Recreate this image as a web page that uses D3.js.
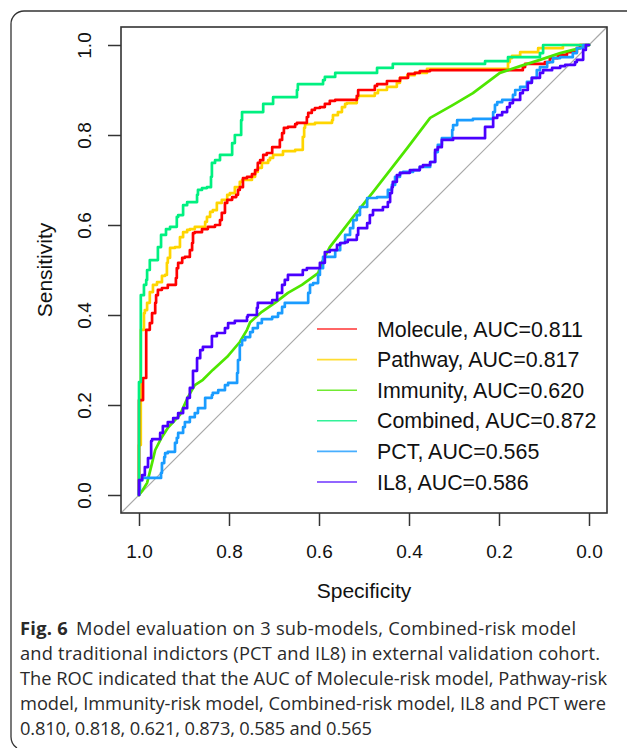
<!DOCTYPE html>
<html><head><meta charset="utf-8">
<script src="https://cdn.jsdelivr.net/npm/d3@7"></script>
<style>body{margin:0;background:#fff}svg{display:block}</style>
</head><body><svg id="c" width="627" height="748"></svg>
<script>
// ---------- data ----------
const seriesNames = ["Molecule","Pathway","Immunity","Combined","PCT","IL8"];
const aucValues   = ["0.811","0.817","0.620","0.872","0.565","0.586"];
const xTickValues = [1.0,0.8,0.6,0.4,0.2,0.0];
const yTickValues = [0.0,0.2,0.4,0.6,0.8,1.0];

// [specificity, sensitivity]
const molecule = [[1,0],[1,0.211],[0.991,0.211],[0.991,0.26],[0.984,0.26],[0.984,0.349],[0.976,0.367],[0.971,0.382],[0.964,0.404],[0.962,0.427],[0.958,0.444],[0.949,0.456],[0.936,0.46],[0.918,0.467],[0.916,0.482],[0.913,0.504],[0.904,0.516],[0.898,0.527],[0.887,0.529],[0.882,0.544],[0.88,0.56],[0.876,0.582],[0.86,0.584],[0.847,0.591],[0.831,0.596],[0.82,0.6],[0.816,0.611],[0.809,0.627],[0.804,0.649],[0.793,0.656],[0.784,0.662],[0.78,0.667],[0.776,0.678],[0.769,0.684],[0.76,0.704],[0.749,0.707],[0.742,0.713],[0.736,0.722],[0.731,0.738],[0.724,0.744],[0.716,0.756],[0.704,0.76],[0.702,0.773],[0.687,0.773],[0.682,0.789],[0.678,0.804],[0.669,0.816],[0.653,0.818],[0.649,0.824],[0.627,0.827],[0.624,0.84],[0.616,0.849],[0.609,0.856],[0.598,0.86],[0.587,0.862],[0.576,0.869],[0.564,0.876],[0.564,0.878],[0.516,0.878],[0.513,0.887],[0.476,0.9],[0.471,0.909],[0.449,0.913],[0.42,0.92],[0.402,0.927],[0.387,0.936],[0.376,0.938],[0.353,0.942],[0.349,0.944],[0.147,0.944],[0.142,0.951],[0.098,0.958],[0.087,0.962],[0.069,0.971],[0.049,0.978],[0.027,0.984],[0.02,0.993],[0.004,1],[0,1]];

const pathway = [[1,0],[1,0.111],[0.996,0.111],[0.996,0.356],[0.989,0.367],[0.987,0.404],[0.982,0.411],[0.976,0.427],[0.969,0.451],[0.96,0.467],[0.949,0.473],[0.942,0.487],[0.938,0.489],[0.936,0.516],[0.931,0.527],[0.92,0.549],[0.909,0.551],[0.902,0.573],[0.893,0.584],[0.887,0.589],[0.876,0.591],[0.853,0.596],[0.849,0.607],[0.842,0.618],[0.836,0.629],[0.827,0.633],[0.816,0.649],[0.804,0.656],[0.798,0.667],[0.787,0.671],[0.776,0.684],[0.771,0.696],[0.749,0.7],[0.742,0.707],[0.736,0.718],[0.727,0.727],[0.713,0.738],[0.709,0.744],[0.702,0.749],[0.68,0.756],[0.653,0.764],[0.636,0.767],[0.633,0.796],[0.631,0.816],[0.609,0.824],[0.571,0.827],[0.569,0.833],[0.558,0.844],[0.549,0.851],[0.542,0.862],[0.538,0.869],[0.516,0.871],[0.513,0.882],[0.476,0.887],[0.469,0.893],[0.449,0.9],[0.427,0.907],[0.42,0.916],[0.404,0.927],[0.387,0.933],[0.36,0.938],[0.353,0.947],[0.18,0.947],[0.176,0.962],[0.171,0.971],[0.153,0.976],[0.149,0.984],[0.113,0.984],[0.104,0.993],[0.058,0.993],[0,1]];

const immunity = [[1,0],[0.993,0.009],[0.982,0.027],[0.971,0.071],[0.964,0.1],[0.949,0.129],[0.936,0.149],[0.909,0.178],[0.891,0.218],[0.876,0.244],[0.858,0.256],[0.836,0.278],[0.804,0.307],[0.776,0.34],[0.76,0.367],[0.753,0.384],[0.727,0.407],[0.698,0.427],[0.669,0.449],[0.638,0.467],[0.602,0.493],[0.593,0.518],[0.576,0.551],[0.524,0.618],[0.48,0.673],[0.404,0.771],[0.353,0.838],[0.302,0.867],[0.258,0.893],[0.198,0.938],[0.153,0.953],[0.109,0.967],[0.064,0.982],[0.02,0.993],[0,1]];

const combined = [[1,0],[1,0.251],[0.996,0.251],[0.996,0.427],[0.989,0.444],[0.984,0.467],[0.982,0.478],[0.976,0.5],[0.958,0.522],[0.951,0.551],[0.94,0.578],[0.931,0.591],[0.916,0.596],[0.913,0.618],[0.902,0.622],[0.893,0.644],[0.887,0.651],[0.871,0.651],[0.869,0.667],[0.86,0.678],[0.849,0.682],[0.84,0.684],[0.838,0.707],[0.831,0.738],[0.82,0.744],[0.813,0.756],[0.793,0.756],[0.787,0.782],[0.782,0.8],[0.773,0.8],[0.771,0.833],[0.767,0.851],[0.724,0.851],[0.722,0.869],[0.702,0.869],[0.698,0.884],[0.649,0.884],[0.647,0.9],[0.64,0.913],[0.591,0.913],[0.587,0.922],[0.587,0.929],[0.564,0.929],[0.564,0.938],[0.471,0.938],[0.469,0.949],[0.436,0.949],[0.436,0.958],[0.231,0.958],[0.231,0.964],[0.18,0.964],[0.18,0.973],[0.109,0.973],[0.109,0.982],[0.102,0.982],[0.102,1],[0,1]];

const pct = [[1,0],[0.998,0.011],[0.993,0.033],[0.987,0.038],[0.951,0.038],[0.949,0.049],[0.944,0.071],[0.942,0.084],[0.936,0.093],[0.92,0.096],[0.916,0.116],[0.913,0.127],[0.902,0.138],[0.898,0.151],[0.887,0.162],[0.876,0.173],[0.869,0.182],[0.853,0.193],[0.853,0.211],[0.838,0.216],[0.836,0.222],[0.824,0.227],[0.809,0.233],[0.802,0.244],[0.782,0.249],[0.78,0.271],[0.776,0.3],[0.771,0.333],[0.764,0.344],[0.753,0.351],[0.747,0.362],[0.736,0.371],[0.727,0.382],[0.704,0.391],[0.691,0.396],[0.682,0.404],[0.676,0.418],[0.669,0.427],[0.624,0.427],[0.62,0.449],[0.613,0.467],[0.602,0.471],[0.598,0.489],[0.591,0.504],[0.582,0.529],[0.564,0.529],[0.553,0.544],[0.542,0.56],[0.531,0.578],[0.524,0.593],[0.516,0.611],[0.509,0.622],[0.493,0.64],[0.471,0.66],[0.447,0.662],[0.438,0.678],[0.431,0.689],[0.42,0.707],[0.413,0.716],[0.391,0.718],[0.376,0.722],[0.353,0.729],[0.342,0.74],[0.336,0.762],[0.327,0.778],[0.304,0.793],[0.302,0.811],[0.293,0.822],[0.258,0.833],[0.213,0.836],[0.209,0.851],[0.204,0.867],[0.193,0.873],[0.169,0.878],[0.164,0.889],[0.153,0.9],[0.138,0.907],[0.127,0.918],[0.116,0.927],[0.109,0.944],[0.093,0.951],[0.08,0.962],[0.064,0.971],[0.036,0.973],[0.027,0.982],[0.013,0.993],[0.004,1],[0,1]];

const il8 = [[1,0],[0.993,0.033],[0.987,0.044],[0.98,0.062],[0.973,0.082],[0.971,0.12],[0.953,0.124],[0.947,0.138],[0.936,0.153],[0.924,0.162],[0.913,0.171],[0.902,0.182],[0.893,0.193],[0.887,0.216],[0.88,0.238],[0.871,0.276],[0.864,0.304],[0.858,0.322],[0.838,0.329],[0.827,0.353],[0.809,0.36],[0.802,0.371],[0.787,0.382],[0.76,0.387],[0.758,0.396],[0.738,0.4],[0.736,0.416],[0.704,0.427],[0.693,0.433],[0.682,0.449],[0.676,0.467],[0.669,0.478],[0.636,0.489],[0.627,0.5],[0.598,0.504],[0.587,0.516],[0.576,0.54],[0.56,0.544],[0.553,0.556],[0.542,0.56],[0.536,0.562],[0.516,0.567],[0.513,0.578],[0.493,0.593],[0.487,0.604],[0.48,0.622],[0.458,0.633],[0.447,0.64],[0.442,0.651],[0.438,0.671],[0.436,0.684],[0.427,0.696],[0.42,0.711],[0.398,0.716],[0.376,0.722],[0.369,0.729],[0.353,0.733],[0.342,0.74],[0.336,0.767],[0.327,0.773],[0.302,0.789],[0.293,0.793],[0.231,0.793],[0.231,0.811],[0.213,0.818],[0.204,0.838],[0.193,0.844],[0.182,0.851],[0.176,0.862],[0.169,0.871],[0.153,0.878],[0.147,0.893],[0.136,0.9],[0.127,0.916],[0.109,0.927],[0.102,0.938],[0.082,0.944],[0.064,0.949],[0.053,0.953],[0.031,0.956],[0.027,0.962],[0.013,0.967],[0.007,0.989],[0,1]];

const seriesData = [molecule, pathway, immunity, combined, pct, il8];
const seriesColors = ["#FF0000","#FFD500","#4EE600","#00F080","#1A9CFF","#4A00FF"];
const stepped = [true,true,false,true,true,true];
const drawOrder = [1,0,2,3,4,5];

const captionBold = "Fig. 6";
const captionLines = [
  "Model evaluation on 3 sub-models, Combined-risk model",
  "and traditional indictors (PCT and IL8) in external validation cohort.",
  "The ROC indicated that the AUC of Molecule-risk model, Pathway-risk",
  "model, Immunity-risk model, Combined-risk model, IL8 and PCT were",
  "0.810, 0.818, 0.621, 0.873, 0.585 and 0.565"
];
const captionLineLengths = [556, 580, 587, 586, 352];

// ---------- layout ----------
const svg = d3.select("#c");
const L = 121, R = 607, T = 27, B = 513;
const x = d3.scaleLinear().domain([1.04, -0.04]).range([L, R]);
const y = d3.scaleLinear().domain([-0.04, 1.04]).range([B, T]);
const axisFont = "'Liberation Sans', Arial, sans-serif";

// outer figure frame
svg.append("path")
  .attr("d", "M627,11 H24 A13,13 0 0 0 11,24 V736 A14,14 0 0 0 17,748")
  .attr("fill", "none").attr("stroke", "#333").attr("stroke-width", 1.3);

// diagonal reference
svg.append("line")
  .attr("x1", x(1.04)).attr("y1", y(-0.04)).attr("x2", x(-0.04)).attr("y2", y(1.04))
  .attr("stroke", "#a8a8a8").attr("stroke-width", 1.2);

// curves
const lineStep = d3.line().x(d => x(d[0])).y(d => y(d[1])).curve(d3.curveStepBefore);
const lineLin  = d3.line().x(d => x(d[0])).y(d => y(d[1]));
drawOrder.forEach(i => {
  svg.append("path")
    .attr("d", (stepped[i] ? lineStep : lineLin)(seriesData[i]))
    .attr("fill", "none")
    .attr("stroke", seriesColors[i])
    .attr("stroke-width", 2.7)
    .attr("stroke-linejoin", "round")
    .attr("stroke-linecap", "round");
});

// box
svg.append("rect").attr("x", L).attr("y", T).attr("width", R - L).attr("height", B - T)
  .attr("fill", "none").attr("stroke", "#333").attr("stroke-width", 1.6);

// x axis
const gx = svg.append("g").attr("transform", `translate(0,${B})`)
  .call(d3.axisBottom(x).tickValues(xTickValues).tickFormat(d3.format(".1f")).tickSize(13).tickSizeOuter(0));
gx.select(".domain").remove();
gx.selectAll(".tick line").attr("stroke", "#333").attr("stroke-width", 1.5);
gx.selectAll(".tick text").attr("y", 45).attr("dy", null)
  .attr("font-family", axisFont).attr("font-size", 19).attr("fill", "#111");

// y axis
const gy = svg.append("g").attr("transform", `translate(${L},0)`)
  .call(d3.axisLeft(y).tickValues(yTickValues).tickFormat(d3.format(".1f")).tickSize(13).tickSizeOuter(0));
gy.select(".domain").remove();
gy.selectAll(".tick line").attr("stroke", "#333").attr("stroke-width", 1.5);
gy.selectAll(".tick text").attr("x", null).attr("dy", null)
  .attr("transform", "translate(-30,0) rotate(-90)")
  .attr("text-anchor", "middle")
  .attr("font-family", axisFont).attr("font-size", 19).attr("fill", "#111");

// axis titles
svg.append("text").attr("x", (x(1) + x(0)) / 2).attr("y", 598).attr("text-anchor", "middle")
  .attr("font-family", axisFont).attr("font-size", 21).attr("fill", "#111").text("Specificity");
svg.append("text").attr("transform", `translate(52,${(y(0) + y(1)) / 2}) rotate(-90)`).attr("text-anchor", "middle")
  .attr("font-family", axisFont).attr("font-size", 21).attr("fill", "#111").text("Sensitivity");

// legend
const legY0 = 329, legDy = 30.6;
seriesNames.forEach((name, i) => {
  const yy = legY0 + i * legDy;
  svg.append("line").attr("x1", 317).attr("x2", 357).attr("y1", yy).attr("y2", yy)
    .attr("stroke", seriesColors[i]).attr("stroke-width", 1.6).attr("opacity", 0.8);
  svg.append("text").attr("x", 377).attr("y", yy + 7.5)
    .attr("font-family", axisFont).attr("font-size", 21.4).attr("fill", "#111")
    .text(`${name}, AUC=${aucValues[i]}`);
});

// caption
const capFont = "'Open Sans', 'Noto Sans', sans-serif";
captionLines.forEach((ln, i) => {
  const t = svg.append("text").attr("x", 20).attr("y", 635 + i * 25)
    .attr("font-family", capFont).attr("font-size", 18.3).attr("fill", "#2a2a2a")
    .attr("textLength", captionLineLengths[i]).attr("lengthAdjust", "spacing");
  if (i === 0) {
    t.append("tspan").attr("font-weight", "bold").text(captionBold);
    t.append("tspan").attr("dx", 8).text(ln);
  } else {
    t.text(ln);
  }
});
</script></body></html>
